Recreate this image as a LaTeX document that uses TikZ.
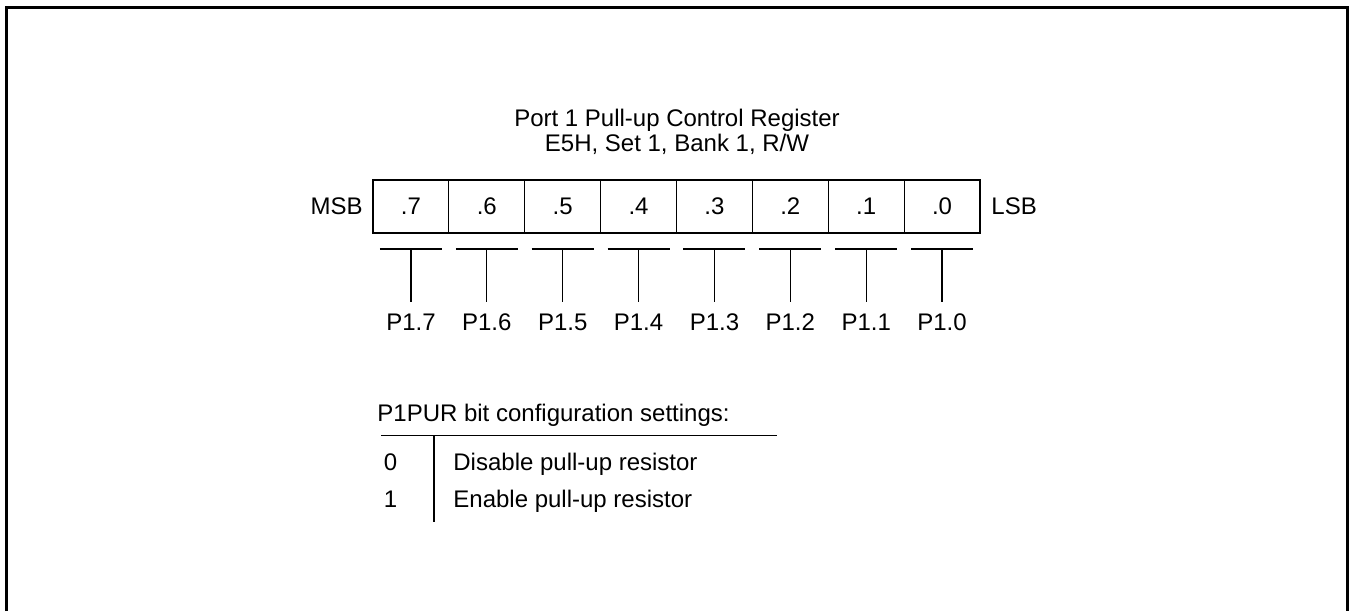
\documentclass[tikz,border=0pt]{standalone}
\usepackage{fontspec}
\setmainfont{Liberation Sans}
\begin{document}
\begin{tikzpicture}[x=0.5pt,y=-0.5pt,
  txt/.style={inner sep=0pt, font=\fontsize{12}{14}\selectfont},
  cell/.style={draw, line width=0.6pt, minimum width=37.94pt, minimum height=26.5pt, inner sep=0pt, text height=8pt, text depth=0.5pt, font=\fontsize{12}{14}\selectfont},
  thin/.style={line width=0.65pt},
  frame/.style={line width=1.5pt}]
\useasboundingbox (0,0) rectangle (1353,611);
% outer frame (open at the bottom)
\coordinate (fbl) at (6.5,611);
\coordinate (ftl) at (6.5,7);
\coordinate (ftr) at (1347,7);
\coordinate (fbr) at (1347,611);
\draw[frame] (fbl) -- (ftl) -- (ftr) -- (fbr);
% title
\node[txt, anchor=base] (t1) at (677,126) {Port 1 Pull-up Control Register};
\node[txt, anchor=base] (t2) at (677,151) {E5H, Set 1, Bank 1, R/W};
% register
\node[txt, anchor=base east] (msb) at (363,214) {MSB};
\node[txt, anchor=base west] (lsb) at (991,214) {LSB};
\foreach \i in {0,...,7} {
  \pgfmathtruncatemacro{\b}{7-\i}
  \pgfmathsetmacro{\cx}{373+75.875*(\i+0.5)}
  \node[cell] (c\i) at (\cx,206.5) {.\b};
  \coordinate (bl\i) at (\cx-31,249);
  \coordinate (br\i) at (\cx+31,249);
  \coordinate (bm\i) at (\cx,249);
  \coordinate (se\i) at (\cx,301.7);
  \node[txt, anchor=base] (p\i) at (\cx,330.5) {P1.\b};
  \draw[thin] (bl\i) -- (br\i);
  \draw[thin] (bm\i) -- (se\i);
}
% settings
\node[txt, anchor=base west] (cap) at (377,421.5) {P1PUR bit configuration settings:};
\coordinate (hl) at (381,435.5);
\coordinate (hr) at (777,435.5);
\coordinate (vt) at (434,435.5);
\coordinate (vb) at (434,522);
\draw[thin] (hl) -- (hr);
\draw[thin] (vt) -- (vb);
\node[txt, anchor=base] (v0) at (390.5,470.5) {0};
\node[txt, anchor=base] (v1) at (390.5,507) {1};
\node[txt, anchor=base west] (d0) at (453,470.5) {Disable pull-up resistor};
\node[txt, anchor=base west] (d1) at (453,507) {Enable pull-up resistor};
\end{tikzpicture}
\end{document}
